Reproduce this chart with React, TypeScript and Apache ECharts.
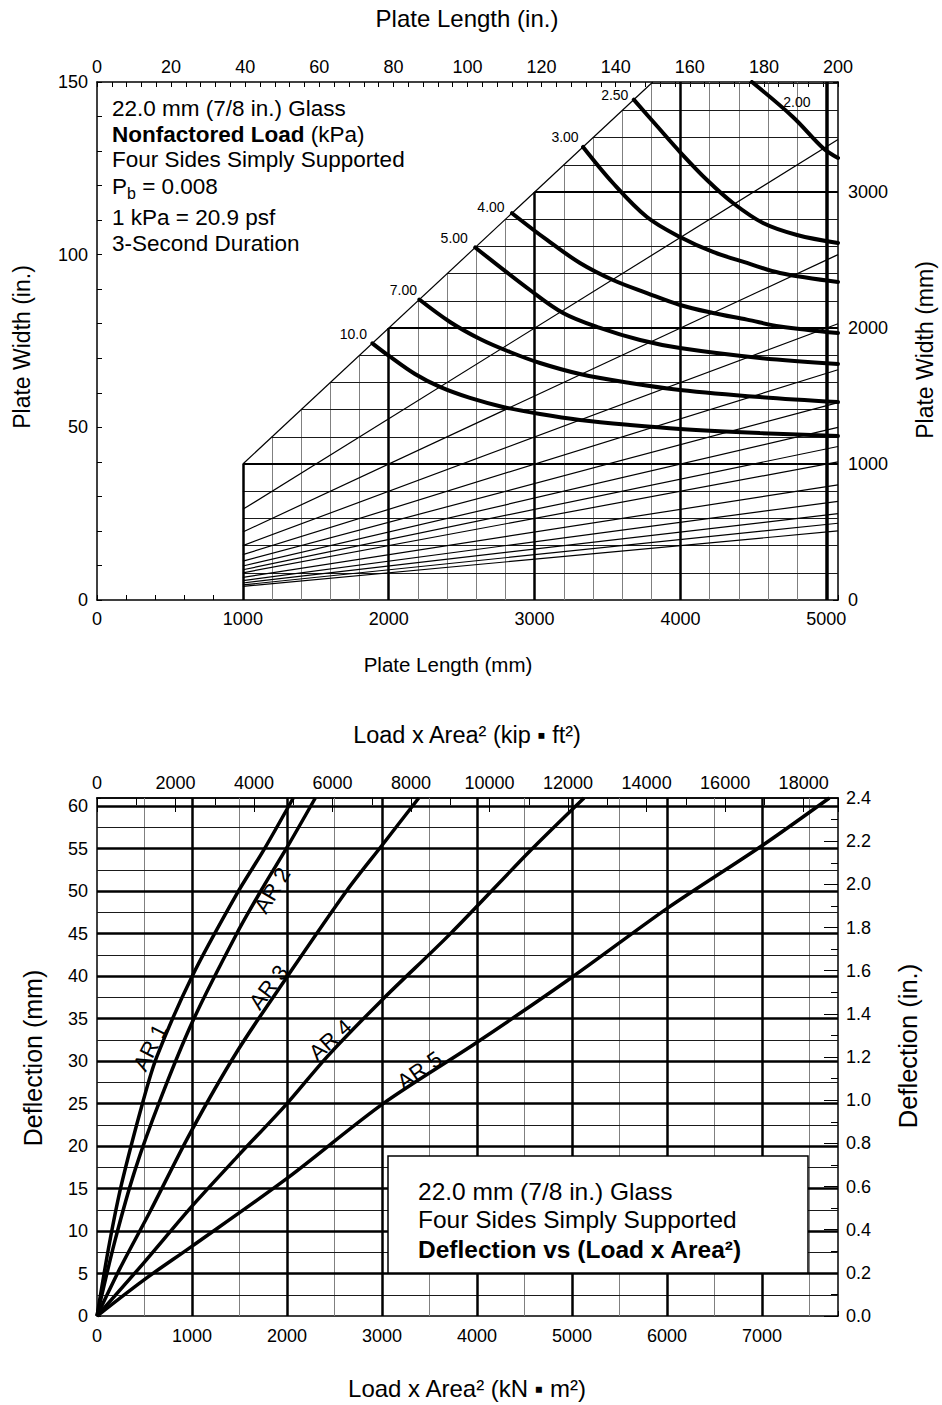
import React, { useEffect, useRef } from "react";
import * as echarts from "echarts";

const FONT = '"Liberation Sans", Arial, Helvetica, sans-serif';

// ---------------- Top chart: plate length x width (mm) ----------------
const LENGTH_MAX_MM = 5080; // 200 in
const WIDTH_MAX_MM = 3810; // 150 in
const LENGTH_MAX_IN = 200;
const WIDTH_MAX_IN = 150;
const GRID_START_MM = 1000;
const THIN_V_MM = [1200, 1400, 1600, 1800, 2200, 2400, 2600, 2800, 3200, 3400, 3600, 3800, 4200, 4400, 4600, 4800];
const THIN_H_MM = [200, 400, 600, 800, 1200, 1400, 1600, 1800, 2200, 2400, 2600, 2800, 3200, 3400, 3600, 3800];
const THICK_V_MM = [1000, 2000, 3000, 4000];
const EDGE_V_MM = [5000];
const THICK_H_MM = [1000, 2000, 3000];
const ASPECT_RATIOS = [1, 1.5, 2, 2.5, 3, 3.5, 4, 4.5, 5, 6, 7, 8, 9, 10];

const LOAD_LABELS = ["10.0", "7.00", "5.00", "4.00", "3.00", "2.50", "2.00"];
const LOAD_10_0 = [[1888, 1888], [2002, 1795], [2180, 1662], [2351, 1567], [2557, 1486], [2783, 1420], [3037, 1368], [3311, 1324], [3654, 1287], [3997, 1258], [4545, 1228], [5080, 1206]];
const LOAD_7_00 = [[2210, 2210], [2420, 2045], [2626, 1920], [2831, 1824], [3037, 1743], [3311, 1662], [3654, 1596], [3997, 1545], [4545, 1493], [5080, 1456]];
const LOAD_5_00 = [[2593, 2593], [2968, 2280], [3195, 2111], [3448, 2001], [3723, 1912], [3997, 1853], [4545, 1780], [5080, 1736]];
const LOAD_4_00 = [[2845, 2845], [3085, 2648], [3311, 2479], [3537, 2354], [3770, 2258], [3997, 2170], [4223, 2111], [4456, 2062], [4682, 2012], [5080, 1964]];
const LOAD_3_00 = [[3332, 3332], [3537, 3067], [3770, 2817], [3997, 2670], [4223, 2560], [4456, 2479], [4682, 2405], [5080, 2339]];
const LOAD_2_50 = [[3680, 3680], [3839, 3486], [3997, 3295], [4182, 3089], [4360, 2920], [4566, 2773], [4799, 2685], [5080, 2626]];
const LOAD_2_00 = [[4490, 3810], [4771, 3553], [4977, 3325], [5080, 3251]];
const LOAD_CURVES = [LOAD_10_0, LOAD_7_00, LOAD_5_00, LOAD_4_00, LOAD_3_00, LOAD_2_50, LOAD_2_00];
const LOAD_LABEL_POINT = [0, 0, 0, 0, 0, 0, 1];
const LOAD_LABEL_OFFSET = [[-19, -9], [-16, -10], [-21, -9], [-21, -6], [-18, -10], [-19, -5], [4, -15]];

// ---------------- Bottom chart: deflection vs load x area^2 ----------------
const LA_MAX = 7800; // kN*m^2
const KIP_FT2_PER_KN_M2 = 2.41986;
const DEFL_MAX_MM = 60.96; // 2.4 in
const DEFL_MAX_IN = 2.4;
const THIN_V_LA = [500, 1500, 2500, 3500, 4500, 5500, 6500, 7500];
const THICK_V_LA = [1000, 2000, 3000, 4000, 5000, 6000, 7000];
const THIN_H_DEFL = [2.5, 7.5, 12.5, 17.5, 22.5, 27.5, 32.5, 37.5, 42.5, 47.5, 52.5, 57.5];
const THICK_H_DEFL = [5, 10, 15, 20, 25, 30, 35, 40, 45, 50, 55, 60];

const AR_NAMES = ["AR 1", "AR 2", "AR 3", "AR 4", "AR 5"];
const AR_1 = [[0, 0], [130, 8.5], [260, 15.6], [488, 25.4], [629, 30.5], [998, 39.9], [1473, 49.7], [1753, 54.8], [2066, 60.96]];
const AR_2 = [[0, 0], [190, 8.9], [401, 17.2], [664, 25.4], [1012, 34.8], [1476, 45.1], [1750, 50.5], [2003, 55.2], [2298, 60.96]];
const AR_3 = [[0, 0], [242, 5.6], [559, 12.3], [980, 21.5], [1473, 31.1], [2000, 39.9], [2632, 50.1], [3001, 55.4], [3387, 60.96]];
const AR_4 = [[0, 0], [488, 6.2], [998, 12.9], [1473, 18.7], [2000, 25.0], [2421, 30.5], [3001, 37.2], [3721, 45.0], [4565, 54.8], [5127, 60.96]];
const AR_5 = [[0, 0], [488, 4.2], [998, 8.2], [2000, 16.2], [3012, 25.0], [3985, 32.1], [5004, 39.9], [6006, 48.0], [7007, 55.4], [7709, 60.96]];
const AR_CURVES = [AR_1, AR_2, AR_3, AR_4, AR_5];
const AR_LABEL_AT = [[559, 31.6], [1845, 50.1], [1806, 38.7], [2456, 32.5], [3394, 28.9]];
const AR_LABEL_ROTATE = [63, 59, 53, 42, 35];

// ---------------- helpers ----------------
const isMult = (v: number, m: number) => Math.abs(v / m - Math.round(v / m)) < 1e-6;

function axis(extra: any) {
  const { tick, label, ...rest } = extra;
  return {
    type: "value",
    splitLine: { show: false },
    axisLine: { show: true, onZero: false, lineStyle: { color: "#000", width: 1.5 } },
    axisTick: { show: true, inside: true, length: 5, lineStyle: { color: "#000", width: 1 }, ...(tick || {}) },
    axisLabel: { color: "#000", fontSize: 18, fontFamily: FONT, ...(label || {}) },
    ...rest,
  };
}

function segs(data: number[][][], xi: number, yi: number, color: string, width: number, z: number) {
  return {
    type: "lines",
    coordinateSystem: "cartesian2d",
    xAxisIndex: xi,
    yAxisIndex: yi,
    silent: true,
    z,
    polyline: false,
    lineStyle: { color, width, opacity: 1, curveness: 0 },
    data: data.map((c) => ({ coords: c })),
  };
}

function staticGraphics(): any[] {
  const titleStyle = { fill: "#000", fontSize: 23, fontFamily: FONT, textAlign: "center", textVerticalAlign: "middle" };
  const noteStyle = { fill: "#000", fontSize: 22.5, fontFamily: FONT, textAlign: "left", textVerticalAlign: "middle" };
  const boxStyle = { fill: "#000", fontSize: 24.5, fontFamily: FONT, textAlign: "left", textVerticalAlign: "middle" };
  return [
    { id: "t1", type: "text", x: 467, y: 18, style: { ...titleStyle, fontSize: 24, text: "Plate Length (in.)" } },
    { id: "t2", type: "text", x: 448, y: 664, style: { ...titleStyle, fontSize: 20.5, text: "Plate Length (mm)" } },
    { id: "t3", type: "text", x: 22, y: 347, rotation: Math.PI / 2, style: { ...titleStyle, text: "Plate Width (in.)" } },
    { id: "t4", type: "text", x: 925, y: 350, rotation: Math.PI / 2, style: { ...titleStyle, text: "Plate Width (mm)" } },
    { id: "t5", type: "text", x: 467, y: 735, style: { ...titleStyle, fontSize: 23.5, text: "Load x Area\u00b2 (kip \u25aa ft\u00b2)" } },
    { id: "t6", type: "text", x: 467, y: 1388, style: { ...titleStyle, fontSize: 24, text: "Load x Area\u00b2 (kN \u25aa m\u00b2)" } },
    { id: "t7", type: "text", x: 33, y: 1058, rotation: Math.PI / 2, style: { ...titleStyle, fontSize: 25, text: "Deflection (mm)" } },
    { id: "t8", type: "text", x: 908, y: 1046, rotation: Math.PI / 2, style: { ...titleStyle, fontSize: 25.5, text: "Deflection (in.)" } },

    { id: "n1", type: "text", x: 112, y: 108, z: 10, style: { ...noteStyle, text: "22.0 mm (7/8 in.) Glass" } },
    {
      id: "n2", type: "text", x: 112, y: 134, z: 10,
      style: {
        ...noteStyle,
        text: "{b|Nonfactored Load} {n|(kPa)}",
        rich: { b: { fontSize: 22.5, fontWeight: "bold", fontFamily: FONT }, n: { fontSize: 22.5, fontFamily: FONT } },
      },
    },
    { id: "n3", type: "text", x: 112, y: 159, z: 10, style: { ...noteStyle, text: "Four Sides Simply Supported" } },
    {
      id: "n4", type: "text", x: 112, y: 188, z: 10,
      style: {
        ...noteStyle,
        text: "{n|P}{s|b}{n| = 0.008}",
        rich: {
          n: { fontSize: 22.5, fontFamily: FONT, lineHeight: 26, verticalAlign: "top" },
          s: { fontSize: 16, fontFamily: FONT, lineHeight: 14, verticalAlign: "bottom" },
        },
      },
    },
    { id: "n5", type: "text", x: 112, y: 217, z: 10, style: { ...noteStyle, text: "1 kPa = 20.9 psf" } },
    { id: "n6", type: "text", x: 112, y: 243, z: 10, style: { ...noteStyle, text: "3-Second Duration" } },

    {
      id: "box", type: "rect", z: 20,
      shape: { x: 388, y: 1156, width: 420, height: 117 },
      style: { fill: "#fff", stroke: "#000", lineWidth: 1.5 },
    },
    { id: "b1", type: "text", x: 418, y: 1191, z: 21, style: { ...boxStyle, text: "22.0 mm (7/8 in.) Glass" } },
    { id: "b2", type: "text", x: 418, y: 1219, z: 21, style: { ...boxStyle, text: "Four Sides Simply Supported" } },
    { id: "b3", type: "text", x: 418, y: 1249, z: 21, style: { ...boxStyle, fontWeight: "bold", text: "Deflection vs (Load x Area\u00b2)" } },
  ];
}

function buildOption() {
  // top chart structural lines
  const thinV = THIN_V_MM.map((x) => [[x, 0], [x, Math.min(x, WIDTH_MAX_MM)]]);
  const thinH = THIN_H_MM.map((y) => [[Math.max(y, GRID_START_MM), y], [LENGTH_MAX_MM, y]]);
  const thickV = THICK_V_MM.map((x) => [[x, 0], [x, Math.min(x, WIDTH_MAX_MM)]]);
  const edgeV = EDGE_V_MM.map((x) => [[x, 0], [x, Math.min(x, WIDTH_MAX_MM)]]);
  const thickH = THICK_H_MM.map((y) => [[y, y], [LENGTH_MAX_MM, y]]);
  const diag = ASPECT_RATIOS.map((ar) => {
    const xEnd = Math.min(LENGTH_MAX_MM, WIDTH_MAX_MM * ar);
    return [[GRID_START_MM, GRID_START_MM / ar], [xEnd, xEnd / ar]];
  });

  // bottom chart grid lines
  const bThinV = THIN_V_LA.map((x) => [[x, 0], [x, DEFL_MAX_MM]]);
  const bThickV = THICK_V_LA.map((x) => [[x, 0], [x, DEFL_MAX_MM]]);
  const bThinH = THIN_H_DEFL.map((y) => [[0, y], [LA_MAX, y]]);
  const bThickH = THICK_H_DEFL.map((y) => [[0, y], [LA_MAX, y]]);

  const series: any[] = [
    segs(thinV, 0, 1, "#808080", 1, 2),
    segs(thinH, 0, 1, "#1a1a1a", 1, 2),
    segs(diag, 0, 1, "#000", 1.2, 3),
    segs(thickV, 0, 1, "#000", 2.5, 4),
    segs(edgeV, 0, 1, "#000", 3.5, 4),
    segs(thickH, 0, 1, "#000", 2.2, 4),
    segs(bThinV, 2, 2, "#808080", 1, 2),
    segs(bThinH, 2, 2, "#1a1a1a", 1, 2),
    segs(bThickV, 2, 2, "#000", 2.5, 3),
    segs(bThickH, 2, 2, "#000", 2.5, 3),
  ];

  LOAD_CURVES.forEach((c, i) => {
    series.push({
      type: "line",
      name: LOAD_LABELS[i],
      xAxisIndex: 0,
      yAxisIndex: 1,
      data: c,
      smooth: 0.35,
      showSymbol: false,
      symbol: "none",
      silent: true,
      z: 6,
      lineStyle: { color: "#000", width: 4, cap: "round" },
    });
  });

  AR_CURVES.forEach((c, i) => {
    series.push({
      type: "line",
      name: AR_NAMES[i],
      xAxisIndex: 2,
      yAxisIndex: 2,
      data: c,
      smooth: 0.3,
      showSymbol: false,
      symbol: "none",
      silent: true,
      z: 6,
      lineStyle: { color: "#000", width: 3.5 },
    });
  });

  return {
    animation: false,
    backgroundColor: "#fff",
    textStyle: { fontFamily: FONT },
    grid: [
      { left: 97, top: 82, width: 741, height: 518, containLabel: false },
      { left: 97, top: 798, width: 741, height: 518, containLabel: false },
      { left: 97, top: 798, width: 741, height: 518, containLabel: false },
    ],
    xAxis: [
      axis({
        gridIndex: 0, position: "bottom", min: 0, max: LENGTH_MAX_MM, interval: 200,
        label: { margin: 10, formatter: (v: number) => (isMult(v, 1000) ? String(v) : "") },
      }),
      axis({
        gridIndex: 0, position: "top", min: 0, max: LENGTH_MAX_IN, interval: 4,
        label: { margin: 6, formatter: (v: number) => (isMult(v, 20) ? String(Math.round(v)) : "") },
      }),
      axis({
        gridIndex: 1, position: "bottom", min: 0, max: LA_MAX, interval: 500,
        label: { margin: 11, formatter: (v: number) => (isMult(v, 1000) ? String(v) : "") },
      }),
      axis({
        gridIndex: 1, position: "top", min: 0, max: LA_MAX * KIP_FT2_PER_KN_M2, interval: 1000,
        tick: { length: 7 },
        label: { show: false },
      }),
      axis({
        gridIndex: 2, position: "top", min: 0, max: LA_MAX * KIP_FT2_PER_KN_M2, interval: 2000,
        tick: { length: 14 },
        label: { margin: 6, formatter: (v: number) => (isMult(v, 2000) ? String(Math.round(v)) : "") },
      }),
    ],
    yAxis: [
      axis({
        gridIndex: 0, position: "left", min: 0, max: WIDTH_MAX_IN, interval: 10,
        label: { margin: 9, formatter: (v: number) => (isMult(v, 50) ? String(Math.round(v)) : "") },
      }),
      axis({
        gridIndex: 0, position: "right", min: 0, max: WIDTH_MAX_MM, interval: 200,
        label: { margin: 10, formatter: (v: number) => (isMult(v, 1000) ? String(Math.round(v)) : "") },
      }),
      axis({
        gridIndex: 1, position: "left", min: 0, max: DEFL_MAX_MM, interval: 2.5,
        tick: { length: 4 },
        label: { margin: 9, formatter: (v: number) => (isMult(v, 5) ? String(Math.round(v)) : "") },
      }),
      axis({
        gridIndex: 1, position: "right", min: 0, max: DEFL_MAX_IN, interval: 0.2,
        tick: { length: 14 },
        minorTick: { show: true, splitNumber: 2, length: 7, lineStyle: { color: "#000", width: 1 } },
        label: { margin: 8, formatter: (v: number) => v.toFixed(1) },
      }),
      { type: "value", gridIndex: 2, min: 0, max: 1, show: false },
    ],
    series,
    graphic: staticGraphics(),
  };
}

// curve labels: positioned from data coordinates via the chart's own axis scales
function labelGraphics(chart: echarts.ECharts): any[] {
  const out: any[] = [];
  LOAD_LABELS.forEach((name, i) => {
    const p = chart.convertToPixel({ xAxisIndex: 0, yAxisIndex: 1 } as any, LOAD_CURVES[i][LOAD_LABEL_POINT[i]]) as number[];
    if (!p) return;
    const [dx, dy] = LOAD_LABEL_OFFSET[i];
    out.push({
      id: "ld" + i, type: "text", z: 12, x: p[0] + dx, y: p[1] + dy,
      style: { text: name, fill: "#000", fontSize: 14, fontFamily: FONT, textAlign: "center", textVerticalAlign: "middle" },
    });
  });
  AR_NAMES.forEach((name, i) => {
    const p = chart.convertToPixel({ xAxisIndex: 2, yAxisIndex: 2 } as any, AR_LABEL_AT[i]) as number[];
    if (!p) return;
    out.push({
      id: "ar" + i, type: "text", z: 12, x: p[0], y: p[1], rotation: (AR_LABEL_ROTATE[i] * Math.PI) / 180,
      style: { text: name, fill: "#000", fontSize: 22, fontFamily: FONT, textAlign: "center", textVerticalAlign: "middle" },
    });
  });
  return out;
}

export default function App() {
  const ref = useRef<HTMLDivElement>(null);
  useEffect(() => {
    document.body.style.margin = "0";
    const chart = echarts.init(ref.current!, null, { renderer: "svg" });
    chart.setOption(buildOption() as any);
    chart.setOption({ graphic: [...staticGraphics(), ...labelGraphics(chart)] } as any);
    return () => chart.dispose();
  }, []);
  return <div ref={ref} style={{ width: 942, height: 1405, background: "#fff" }} />;
}
